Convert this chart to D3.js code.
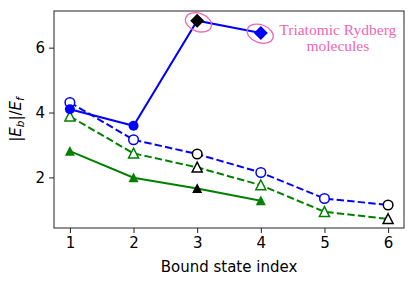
<!DOCTYPE html>
<html>
<head>
<meta charset="utf-8">
<script src="https://cdn.jsdelivr.net/npm/d3@7"></script>
<style>
  body { margin: 0; background: #fff; }
  svg { display: block; }
</style>
</head>
<body>
<div id="chart"></div>
<script>
// data
var states = [1, 2, 3, 4, 5, 6];
var xTicks = [1, 2, 3, 4, 5, 6];
var yTicks = [2, 4, 6];

var solidCircles = [4.10, 3.59];          // states 1-2
var diamonds = [6.83, 6.45];              // states 3-4 (trimer)
var dashedCircles = [4.31, 3.16, 2.72, 2.15, 1.35, 1.15];
var dashedTriangles = [3.88, 2.74, 2.31, 1.76, 0.94, 0.72];
var solidTriangles = [2.81, 1.99, 1.66, 1.28];
var blackStates = [3, 6];                 // states drawn with black markers

var noteLines = ["Triatomic Rydberg", "molecules"];
var ringStates = [3.02, 3.99];
var ringValues = [6.78, 6.43];

// set the dimensions and margins of the graph
var margin = {top: 11, right: 11, bottom: 59, left: 54},
    width = 415 - margin.left - margin.right,
    height = 287 - margin.top - margin.bottom;

var svg = d3.select("#chart")
  .append("svg")
    .attr("width", width + margin.left + margin.right)
    .attr("height", height + margin.top + margin.bottom)
  .append("g")
    .attr("transform", "translate(" + margin.left + "," + margin.top + ")");

var x = d3.scaleLinear().domain([0.75, 6.25]).range([0, width]);
var y = d3.scaleLinear().domain([0.44, 7.13]).range([height, 0]);

var blue = "#0000ff", green = "#008000";

function colorFor(state, base) {
  return blackStates.indexOf(state) >= 0 ? "#000" : base;
}

// lines
var line = d3.line()
  .x(function(d) { return x(d[0]); })
  .y(function(d) { return y(d[1]); });

function pairs(vals, start) {
  return vals.map(function(v, i) { return [states[start + i], v]; });
}

var blueSolid = pairs(solidCircles, 0).concat(pairs(diamonds, 2));

svg.append("path").datum(pairs(solidTriangles, 0))
  .attr("d", line).attr("fill", "none")
  .attr("stroke", green).attr("stroke-width", 2);

svg.append("path").datum(pairs(dashedTriangles, 0))
  .attr("d", line).attr("fill", "none")
  .attr("stroke", green).attr("stroke-width", 2)
  .attr("stroke-dasharray", "7.4,3.2");

svg.append("path").datum(pairs(dashedCircles, 0))
  .attr("d", line).attr("fill", "none")
  .attr("stroke", blue).attr("stroke-width", 2)
  .attr("stroke-dasharray", "7.4,3.2");

svg.append("path").datum(blueSolid)
  .attr("d", line).attr("fill", "none")
  .attr("stroke", blue).attr("stroke-width", 2);

// markers
var tri = "M0,-5.2L5,4.6L-5,4.6Z";
var dia = "M0,-7L7,0L0,7L-7,0Z";

svg.selectAll(".st").data(pairs(solidTriangles, 0)).enter()
  .append("path")
    .attr("d", tri)
    .attr("transform", function(d) { return "translate(" + x(d[0]) + "," + y(d[1]) + ")"; })
    .attr("fill", function(d) { return colorFor(d[0], green); });

svg.selectAll(".dt").data(pairs(dashedTriangles, 0)).enter()
  .append("path")
    .attr("d", tri)
    .attr("transform", function(d) { return "translate(" + x(d[0]) + "," + y(d[1]) + ")"; })
    .attr("fill", "#fff")
    .attr("stroke-width", 1.5)
    .attr("stroke", function(d) { return colorFor(d[0], green); });

svg.selectAll(".dc").data(pairs(dashedCircles, 0)).enter()
  .append("circle")
    .attr("cx", function(d) { return x(d[0]); })
    .attr("cy", function(d) { return y(d[1]); })
    .attr("r", 4.8)
    .attr("fill", "#fff")
    .attr("stroke-width", 1.5)
    .attr("stroke", function(d) { return colorFor(d[0], blue); });

svg.selectAll(".sc").data(pairs(solidCircles, 0)).enter()
  .append("circle")
    .attr("cx", function(d) { return x(d[0]); })
    .attr("cy", function(d) { return y(d[1]); })
    .attr("r", 5)
    .attr("fill", blue);

svg.selectAll(".dd").data(pairs(diamonds, 2)).enter()
  .append("path")
    .attr("d", dia)
    .attr("transform", function(d) { return "translate(" + x(d[0]) + "," + y(d[1]) + ")"; })
    .attr("fill", function(d) { return colorFor(d[0], blue); });

// pink rings around the trimer points
svg.selectAll(".ring").data(ringStates).enter()
  .append("ellipse")
    .attr("transform", function(d, i) {
      return "translate(" + x(d) + "," + y(ringValues[i]) + ") rotate(20)";
    })
    .attr("rx", 13.5).attr("ry", 9)
    .attr("fill", "none")
    .attr("stroke", "#f066b4")
    .attr("stroke-width", 1.3);

var note = svg.append("text")
  .attr("x", x(5.21))
  .attr("y", y(6.45) + 2)
  .attr("text-anchor", "middle")
  .style("font-family", "'Liberation Serif', serif")
  .style("font-size", "15.5px")
  .attr("fill", "#f066b4");
note.selectAll("tspan").data(noteLines).enter()
  .append("tspan")
    .attr("x", x(5.21))
    .attr("dy", function(d, i) { return i === 0 ? 0 : 16; })
    .text(function(d) { return d; });

// axes
var xAxis = svg.append("g")
  .attr("transform", "translate(0," + height + ")")
  .call(d3.axisBottom(x).tickValues(xTicks).tickFormat(d3.format("d"))
    .tickSize(5).tickPadding(4).tickSizeOuter(0));
var yAxis = svg.append("g")
  .call(d3.axisLeft(y).tickValues(yTicks).tickFormat(d3.format("d"))
    .tickSize(5).tickPadding(4).tickSizeOuter(0));

[xAxis, yAxis].forEach(function(a) {
  a.selectAll("text")
    .style("font-family", "'DejaVu Sans', sans-serif")
    .style("font-size", "15px")
    .attr("fill", "#000");
  a.selectAll("line").attr("stroke", "#222").attr("stroke-width", 1);
  a.select(".domain").remove();
});

// frame
svg.append("rect")
  .attr("width", width).attr("height", height)
  .attr("fill", "none").attr("stroke", "#222").attr("stroke-width", 1);

// labels
svg.append("text")
  .attr("x", width / 2)
  .attr("y", height + 44)
  .attr("text-anchor", "middle")
  .style("font-family", "'DejaVu Sans', sans-serif")
  .style("font-size", "15px")
  .text("Bound state index");

var yl = svg.append("text")
  .attr("transform", "translate(-33," + (height / 2) + ") rotate(-90)")
  .attr("text-anchor", "middle")
  .style("font-family", "'DejaVu Sans', sans-serif")
  .style("font-size", "15px")
  .style("font-style", "italic");
yl.append("tspan").style("font-style", "normal").text("|");
yl.append("tspan").text("E");
yl.append("tspan").attr("dy", 3).style("font-size", "10.5px").text("b");
yl.append("tspan").attr("dy", -3).style("font-style", "normal").text("|/");
yl.append("tspan").text("E");
yl.append("tspan").attr("dy", 3).style("font-size", "10.5px").text("f");
</script>
</body>
</html>
